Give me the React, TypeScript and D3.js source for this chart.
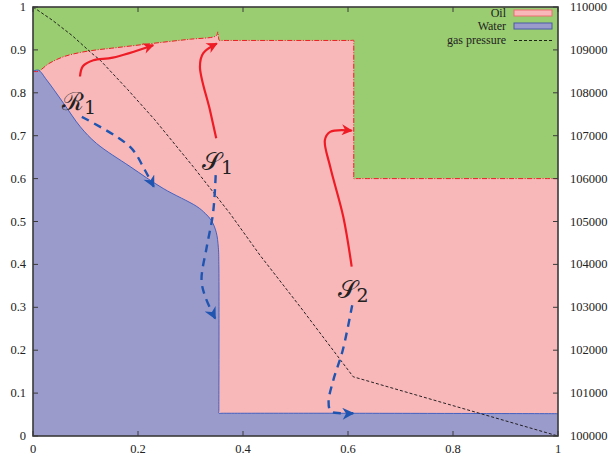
import React from "react";
import * as d3 from "d3";

// ---- data ----
const oilTopX = [0, 0.01, 0.03, 0.058, 0.09, 0.121, 0.15, 0.185, 0.248, 0.3, 0.343, 0.35, 0.352, 0.355, 0.36, 0.605, 0.611, 0.611, 0.611, 0.611, 0.617, 1];
const oilTopY = [0.85, 0.85, 0.868, 0.884, 0.894, 0.9, 0.904, 0.909, 0.918, 0.925, 0.93, 0.934, 0.942, 0.922, 0.922, 0.922, 0.922, 0.915, 0.607, 0.6, 0.6, 0.6];

const waterX = [0, 0.01, 0.026, 0.058, 0.09, 0.121, 0.185, 0.248, 0.312, 0.328, 0.34, 0.349, 0.353, 0.354, 0.354, 0.354, 0.36, 0.61, 1];
const waterY = [0.85, 0.853, 0.83, 0.776, 0.721, 0.682, 0.628, 0.577, 0.535, 0.519, 0.502, 0.475, 0.44, 0.4, 0.06, 0.053, 0.053, 0.053, 0.052];

const gasX = [0, 0.036, 0.075, 0.112, 0.128, 0.18, 0.232, 0.305, 0.375, 0.432, 0.509, 0.61, 1.0];
const gasP = [110000, 109700, 109330, 108920, 108760, 108080, 107370, 106280, 105190, 104220, 103010, 101380, 100000];

const xTicks = [0, 0.2, 0.4, 0.6, 0.8, 1];
const xTickLabels = ["0", "0.2", "0.4", "0.6", "0.8", "1"];
const yTicks = [0, 0.1, 0.2, 0.3, 0.4, 0.5, 0.6, 0.7, 0.8, 0.9, 1];
const yTickLabels = ["0", "0.1", "0.2", "0.3", "0.4", "0.5", "0.6", "0.7", "0.8", "0.9", "1"];
const y2Ticks = [100000, 101000, 102000, 103000, 104000, 105000, 106000, 107000, 108000, 109000, 110000];
const y2TickLabels = y2Ticks.map((v) => String(v));

const legendLabels = ["Oil", "Water", "gas pressure"];

// annotation arrows (data coordinates)
const r1RedX = [0.0895, 0.095, 0.115, 0.152, 0.229];
const r1RedY = [0.838, 0.862, 0.876, 0.882, 0.911];
const r1BlueX = [0.093, 0.185, 0.213, 0.23];
const r1BlueY = [0.744, 0.674, 0.62, 0.581];
const s1RedX = [0.349, 0.337, 0.318, 0.324, 0.35];
const s1RedY = [0.694, 0.76, 0.861, 0.892, 0.915];
const s1BlueX = [0.348, 0.343, 0.331, 0.321, 0.328, 0.347];
const s1BlueY = [0.608, 0.52, 0.441, 0.364, 0.325, 0.274];
const s2RedX = [0.607, 0.591, 0.566, 0.556, 0.566, 0.607];
const s2RedY = [0.395, 0.511, 0.628, 0.69, 0.709, 0.712];
const s2BlueX = [0.608, 0.59, 0.572, 0.563, 0.567, 0.585, 0.61];
const s2BlueY = [0.305, 0.2, 0.13, 0.08, 0.058, 0.053, 0.053];

const labels = [
  { main: "ℛ", sub: "1", x: 0.055, y: 0.76 },
  { main: "𝒮", sub: "1", x: 0.322, y: 0.62 },
  { main: "𝒮", sub: "2", x: 0.58, y: 0.322 },
];

const GREEN = "#9acd71";
const PINK = "#f8b8ba";
const BLUE_FILL = "#9b9bcb";
const RED = "#ee1c25";
const BLUE = "#1f55b0";

export default function App() {
  const x = d3.scaleLinear().domain([0, 1]).range([33, 558]);
  const y = d3.scaleLinear().domain([0, 1]).range([436, 7]);
  const y2 = d3.scaleLinear().domain([100000, 110000]).range([436, 7]);

  const oilPts = oilTopX.map((v, i) => [v, oilTopY[i]] as [number, number]);
  const waterPts = waterX.map((v, i) => [v, waterY[i]] as [number, number]);
  const gasPts = gasX.map((v, i) => [v, gasP[i]] as [number, number]);

  const smooth = d3.curveCatmullRom.alpha(0.5);
  const area = d3
    .area<[number, number]>()
    .x((d) => x(d[0]))
    .y0(y(0))
    .y1((d) => y(d[1]))
    .curve(smooth);
  const line = d3
    .line<[number, number]>()
    .x((d) => x(d[0]))
    .y((d) => y(d[1]))
    .curve(smooth);
  const gasLine = d3
    .line<[number, number]>()
    .x((d) => x(d[0]))
    .y((d) => y2(d[1]));
  const arrowLine = d3
    .line<[number, number]>()
    .x((d) => x(d[0]))
    .y((d) => y(d[1]))
    .curve(smooth);
  const zip = (a: number[], b: number[]) => a.map((v, i) => [v, b[i]] as [number, number]);

  const font = "'Liberation Serif', 'Times New Roman', serif";
  const axisColor = "#3a3a3a";

  return (
    <svg width={608} height={458} style={{ position: "absolute", left: 0, top: 0, fontFamily: font }}>
      <defs>
        <marker id="ahR" viewBox="0 0 10 10" refX="9" refY="5" markerWidth="5.5" markerHeight="5" orient="auto" markerUnits="strokeWidth">
          <path d="M0,0 L10,5 L0,10 L3,5 z" fill={RED} />
        </marker>
        <marker id="ahB" viewBox="0 0 10 10" refX="9" refY="5" markerWidth="5.5" markerHeight="5" orient="auto" markerUnits="strokeWidth">
          <path d="M0,0 L10,5 L0,10 L3,5 z" fill={BLUE} />
        </marker>
      </defs>
      <rect x={0} y={0} width={608} height={458} fill="white" />
      {/* regions */}
      <rect x={x(0)} y={y(1)} width={x(1) - x(0)} height={y(0) - y(1)} fill={GREEN} />
      <path d={area(oilPts) || ""} fill={PINK} />
      <path d={area(waterPts) || ""} fill={BLUE_FILL} />
      <path d={line(oilPts) || ""} fill="none" stroke={RED} strokeWidth={1} strokeDasharray="5,1.5,1,1.5" />
      <path d={line(waterPts) || ""} fill="none" stroke="#3358c0" strokeWidth={0.9} />
      {/* gas pressure */}
      <path d={gasLine(gasPts) || ""} fill="none" stroke="#111" strokeWidth={0.9} strokeDasharray="3,2" />

      {/* annotation arrows */}
      {[
        [r1RedX, r1RedY],
        [s1RedX, s1RedY],
        [s2RedX, s2RedY],
      ].map((p, i) => (
        <path key={"r" + i} d={arrowLine(zip(p[0], p[1])) || ""} fill="none" stroke={RED} strokeWidth={2.2} markerEnd="url(#ahR)" />
      ))}
      {[
        [r1BlueX, r1BlueY],
        [s1BlueX, s1BlueY],
        [s2BlueX, s2BlueY],
      ].map((p, i) => (
        <path key={"b" + i} d={arrowLine(zip(p[0], p[1])) || ""} fill="none" stroke={BLUE} strokeWidth={2.4} strokeDasharray="8,6" markerEnd="url(#ahB)" />
      ))}

      {/* labels */}
      {labels.map((l, i) => (
        <text key={i} x={x(l.x)} y={y(l.y)} fontSize={25} fill="#222" style={{ fontFamily: "'DejaVu Serif', serif" }}>
          {l.main}
          <tspan fontSize={19} dy={4}>{l.sub}</tspan>
        </text>
      ))}

      {/* frame */}
      <rect x={x(0)} y={y(1)} width={x(1) - x(0)} height={y(0) - y(1)} fill="none" stroke={axisColor} strokeWidth={1.6} />
      {xTicks.map((t, i) => (
        <g key={"xt" + i}>
          <line x1={x(t)} x2={x(t)} y1={y(0)} y2={y(0) - 5} stroke={axisColor} strokeWidth={1} />
          <line x1={x(t)} x2={x(t)} y1={y(1)} y2={y(1) + 5} stroke={axisColor} strokeWidth={1} />
          <text x={x(t)} y={453} textAnchor="middle" fontSize={12.5} fill="#222">
            {xTickLabels[i]}
          </text>
        </g>
      ))}
      {yTicks.map((t, i) => (
        <g key={"yt" + i}>
          <line x1={x(0)} x2={x(0) + 5} y1={y(t)} y2={y(t)} stroke={axisColor} strokeWidth={1} />
          <text x={26} y={y(t) + 4} textAnchor="end" fontSize={12.5} fill="#222">
            {yTickLabels[i]}
          </text>
        </g>
      ))}
      {y2Ticks.map((t, i) => (
        <g key={"y2t" + i}>
          <line x1={x(1)} x2={x(1) - 5} y1={y2(t)} y2={y2(t)} stroke={axisColor} strokeWidth={1} />
          <text x={570} y={y2(t) + 4} textAnchor="start" fontSize={12.5} fill="#222">
            {y2TickLabels[i]}
          </text>
        </g>
      ))}

      {/* legend */}
      <g fontSize={12} fill="#222">
        <text x={506} y={17} textAnchor="end">{legendLabels[0]}</text>
        <rect x={514} y={10} width={38} height={6} fill={PINK} stroke="#f06a70" strokeWidth={1} />
        <text x={506} y={30} textAnchor="end">{legendLabels[1]}</text>
        <rect x={514} y={23} width={38} height={6} fill={BLUE_FILL} stroke="#4a5aa8" strokeWidth={1} />
        <text x={506} y={44} textAnchor="end">{legendLabels[2]}</text>
        <line x1={514} x2={552} y1={40.5} y2={40.5} stroke="#111" strokeWidth={0.9} strokeDasharray="3,2" />
      </g>
    </svg>
  );
}
